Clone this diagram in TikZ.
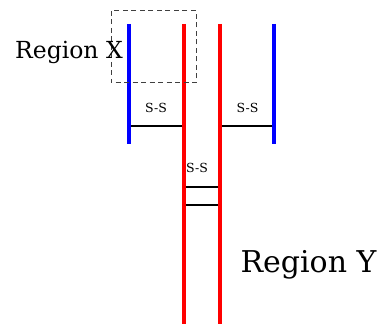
\documentclass[tikz,border=0pt]{standalone}
\usepackage{fontspec}
\setmainfont{DejaVu Serif}
\begin{document}
\begin{tikzpicture}[x=1pt,y=1pt,
  blueline/.style={draw=blue,line width=4pt},
  redline/.style={draw=red,line width=4pt},
  bar/.style={draw=black,line width=1.7pt},
  lbl/.style={font=\fontsize{12.5}{14}\selectfont,anchor=base,inner sep=0pt},
  big/.style={anchor=base,inner sep=0pt},
  dashbox/.style={draw=black!75,line width=1pt,dash pattern=on 5pt off 3.5pt}]
\useasboundingbox (0,0) rectangle (383,324);
% line end points
\coordinate (bl1) at (129,300); \coordinate (bl2) at (129,180);
\coordinate (rl1) at (184,300); \coordinate (rl2) at (184,0);
\coordinate (rr1) at (220,300); \coordinate (rr2) at (220,0);
\coordinate (br1) at (274,300); \coordinate (br2) at (274,180);
\coordinate (hl1) at (129,198); \coordinate (hl2) at (184,198);
\coordinate (hr1) at (220,198); \coordinate (hr2) at (274,198);
\coordinate (ra1) at (184,137); \coordinate (ra2) at (220,137);
\coordinate (rb1) at (184,119); \coordinate (rb2) at (220,119);
\coordinate (dx1) at (111,313); \coordinate (dx2) at (196,241);
% bars
\draw[bar] (hl1) -- (hl2);
\draw[bar] (hr1) -- (hr2);
\draw[bar] (ra1) -- (ra2);
\draw[bar] (rb1) -- (rb2);
% vertical lines
\draw[blueline] (bl1) -- (bl2);
\draw[redline] (rl1) -- (rl2);
\draw[redline] (rr1) -- (rr2);
\draw[blueline] (br1) -- (br2);
% dashed box
\draw[dashbox] (dx1) rectangle (dx2);
% labels
\node[lbl] (s1) at (156,211.3) {S-S};
\node[lbl] (s2) at (247.5,211.3) {S-S};
\node[lbl] (s3) at (197,151) {S-S};
\node[big,font=\fontsize{23.5}{26}\selectfont] (rx) at (69,265) {Region X};
\node[big,font=\fontsize{30}{34}\selectfont] (ry) at (308.5,51) {Region Y};
\end{tikzpicture}
\end{document}
